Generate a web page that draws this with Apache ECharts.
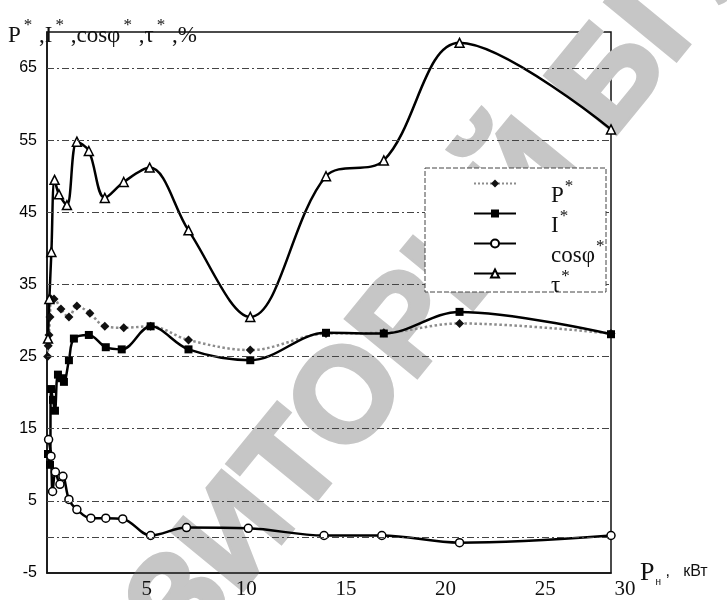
<!DOCTYPE html>
<html><head><meta charset="utf-8">
<script src="https://cdn.jsdelivr.net/npm/echarts@6/dist/echarts.min.js"></script>
<style>html,body{margin:0;padding:0;background:#fff}#c{width:727px;height:600px}</style>
</head><body><div id="c"></div>
<script>
// ---- data ----
const seriesNames = ['P*', 'I*', 'cosφ*', 'τ*'];
const pX = [0.03, 0.06, 0.1, 0.15, 0.2, 0.35, 0.7, 1.1, 1.5, 2.15, 2.9, 3.85, 5.2, 7.1, 10.2, 14.0, 16.9, 20.7, 28.3];
const pY = [25, 26.5, 28, 30.5, 33, 33, 31.6, 30.5, 32, 31, 29.2, 29, 29.2, 27.3, 25.9, 28.2, 28.3, 29.6, 28.2];
const iX = [0.05, 0.15, 0.2, 0.3, 0.4, 0.55, 0.75, 0.85, 1.1, 1.35, 2.1, 2.95, 3.75, 5.2, 7.1, 10.2, 14.0, 16.9, 20.7, 28.3];
const iY = [11.5, 10, 20.5, 19, 17.5, 22.5, 22, 21.5, 24.5, 27.5, 28, 26.3, 26, 29.2, 26, 24.5, 28.3, 28.2, 31.2, 28.1];
const cX = [0.08, 0.2, 0.28, 0.42, 0.65, 0.8, 1.1, 1.5, 2.2, 2.95, 3.8, 5.2, 7.0, 10.1, 13.9, 16.8, 20.7, 28.3];
const cY = [13.5, 11.2, 6.3, 9.0, 7.3, 8.4, 5.2, 3.8, 2.6, 2.6, 2.5, 0.2, 1.3, 1.2, 0.2, 0.2, -0.8, 0.2];
const tX = [0.05, 0.12, 0.22, 0.38, 0.6, 1.0, 1.5, 2.1, 2.9, 3.85, 5.15, 7.1, 10.2, 14.0, 16.9, 20.7, 28.3];
const tY = [27.5, 33, 39.5, 49.5, 47.5, 46, 54.8, 53.5, 47, 49.2, 51.2, 42.5, 30.5, 50, 52.2, 68.5, 56.5];
const yTickLabels = [-5, 5, 15, 25, 35, 45, 55, 65];
const gridValues = [0, 5, 15, 25, 35, 45, 55, 65];
const xTickLabels = [5, 10, 15, 20, 25, 30];
const xLabel30Pos = 29.0;
const watermark = 'РЕПОЗИТОРИЙ БГУИР';

const pairs = (xs, ys) => xs.map((x, i) => [x, ys[i]]);
const serif = 'Liberation Serif';

const chart = echarts.init(document.getElementById('c'), null, {renderer: 'canvas'});

const base = {
  type: 'line', smooth: 0.35, z: 3, animation: false,
  symbolSize: 8, showAllSymbol: true
};

const option = {
  animation: false,
  backgroundColor: '#fff',
  title: {
    left: 3, top: 12,
    text: '{m|P}{s|*}{m| ,I}{s|*}{m| ,cosφ}{s|*}{m| ,τ}{s|*}{m| ,%}',
    textStyle: {
      fontWeight: 'normal',
      rich: {
        m: {fontFamily: serif, fontSize: 23, fontWeight: 'normal', color: '#111'},
        s: {fontFamily: serif, fontSize: 17, fontWeight: 'normal', color: '#111', padding: [0, 1, 20, 3]}
      }
    }
  },
  grid: {left: 47, right: 116, top: 32, bottom: 23, show: true, borderColor: '#111', borderWidth: 1.5, backgroundColor: 'transparent'},
  xAxis: {
    type: 'value', min: 0, max: 28.3, interval: 5,
    axisLine: {show: true, onZero: false, lineStyle: {color: '#111', width: 1.5}},
    axisTick: {show: false},
    splitLine: {show: false},
    axisLabel: {
      margin: 6, color: '#111', fontFamily: serif, fontSize: 21,
      formatter: v => xTickLabels.indexOf(v) >= 0 && v < 30 ? String(v) : ''
    },
    name: '{p|P}{sub|н}{u| ,   кВт}', nameLocation: 'end', nameGap: 29,
    nameTextStyle: {
      rich: {
        p: {fontFamily: serif, fontSize: 26, color: '#111'},
        sub: {fontFamily: 'Liberation Sans', fontSize: 10, color: '#111', padding: [18, 0, 0, 1]},
        u: {fontFamily: 'Liberation Sans', fontSize: 16, color: '#111', padding: [0, 0, 2, 0]}
      }
    }
  },
  yAxis: {
    type: 'value', min: -5, max: 70, interval: 5,
    axisLine: {show: true, lineStyle: {color: '#111', width: 1.5}},
    axisTick: {show: false},
    splitLine: {show: false},
    axisLabel: {
      margin: 10, color: '#000', fontFamily: 'Liberation Sans', fontSize: 16,
      formatter: v => yTickLabels.indexOf(v) >= 0 ? String(v) : ''
    }
  },
  legend: {
    data: seriesNames, orient: 'vertical', left: 468, top: 173, z: 100,
    itemWidth: 42, itemHeight: 10, itemGap: 1, selectedMode: false,
    formatter: n => '{m|' + n.slice(0, -1) + '}{s|*}',
    textStyle: {
      padding: [24, 0, 0, 30],
      rich: {
        m: {fontFamily: serif, fontSize: 23, color: '#111'},
        s: {fontFamily: serif, fontSize: 17, color: '#111', padding: [0, 0, 18, 1]}
      }
    }
  },
  series: [
    Object.assign({}, base, {
      name: seriesNames[0], data: pairs(pX, pY), symbol: 'diamond', symbolSize: 9,
      itemStyle: {color: '#111'},
      lineStyle: {color: '#8c8c8c', width: 2.5, type: 'dotted'}
    }),
    Object.assign({}, base, {
      name: seriesNames[1], data: pairs(iX, iY), symbol: 'rect', symbolSize: 8,
      itemStyle: {color: '#000'},
      lineStyle: {color: '#000', width: 2.5}
    }),
    Object.assign({}, base, {
      name: seriesNames[2], data: pairs(cX, cY), symbol: 'circle', symbolSize: 8,
      itemStyle: {color: '#fff', borderColor: '#000', borderWidth: 1.5},
      lineStyle: {color: '#000', width: 2.5}
    }),
    Object.assign({}, base, {
      name: seriesNames[3], data: pairs(tX, tY), symbol: 'triangle', symbolSize: 9,
      itemStyle: {color: '#fff', borderColor: '#000', borderWidth: 1.5},
      lineStyle: {color: '#000', width: 2.5}
    }),
    {
      name: 'grid', type: 'line', data: [], z: 1, silent: true,
      markLine: {
        silent: true, symbol: 'none', animation: false,
        label: {show: false},
        lineStyle: {type: [7, 3, 2, 3], color: '#444', width: 1},
        data: gridValues.map(v => ({yAxis: v}))
      }
    }
  ]
};
chart.setOption(option);

const p30 = chart.convertToPixel({xAxisIndex: 0}, xLabel30Pos);
const axisY = chart.convertToPixel({yAxisIndex: 0}, -5);
chart.setOption({
  graphic: [
    {
      type: 'text', z: 0, silent: true,
      x: 389, y: 353, rotation: 0.885,
      style: {
        text: watermark, fill: '#c6c6c6', stroke: '#c6c6c6', lineWidth: 5,
        font: 'bold 132px "Liberation Sans"',
        align: 'center', verticalAlign: 'middle', textAlign: 'center', textVerticalAlign: 'middle'
      }
    },
    {
      type: 'rect', z: 50, silent: true,
      shape: {x: 425, y: 168, width: 181, height: 124},
      style: {fill: '#fff', stroke: '#444', lineWidth: 1, lineDash: [5, 2]}
    },
    {
      type: 'text', z: 60, silent: true,
      x: p30, y: axisY + 6,
      style: {text: String(xTickLabels[xTickLabels.length - 1]), fill: '#111', font: '21px "Liberation Serif"', align: 'center', verticalAlign: 'top'}
    }
  ]
});
</script></body></html>
